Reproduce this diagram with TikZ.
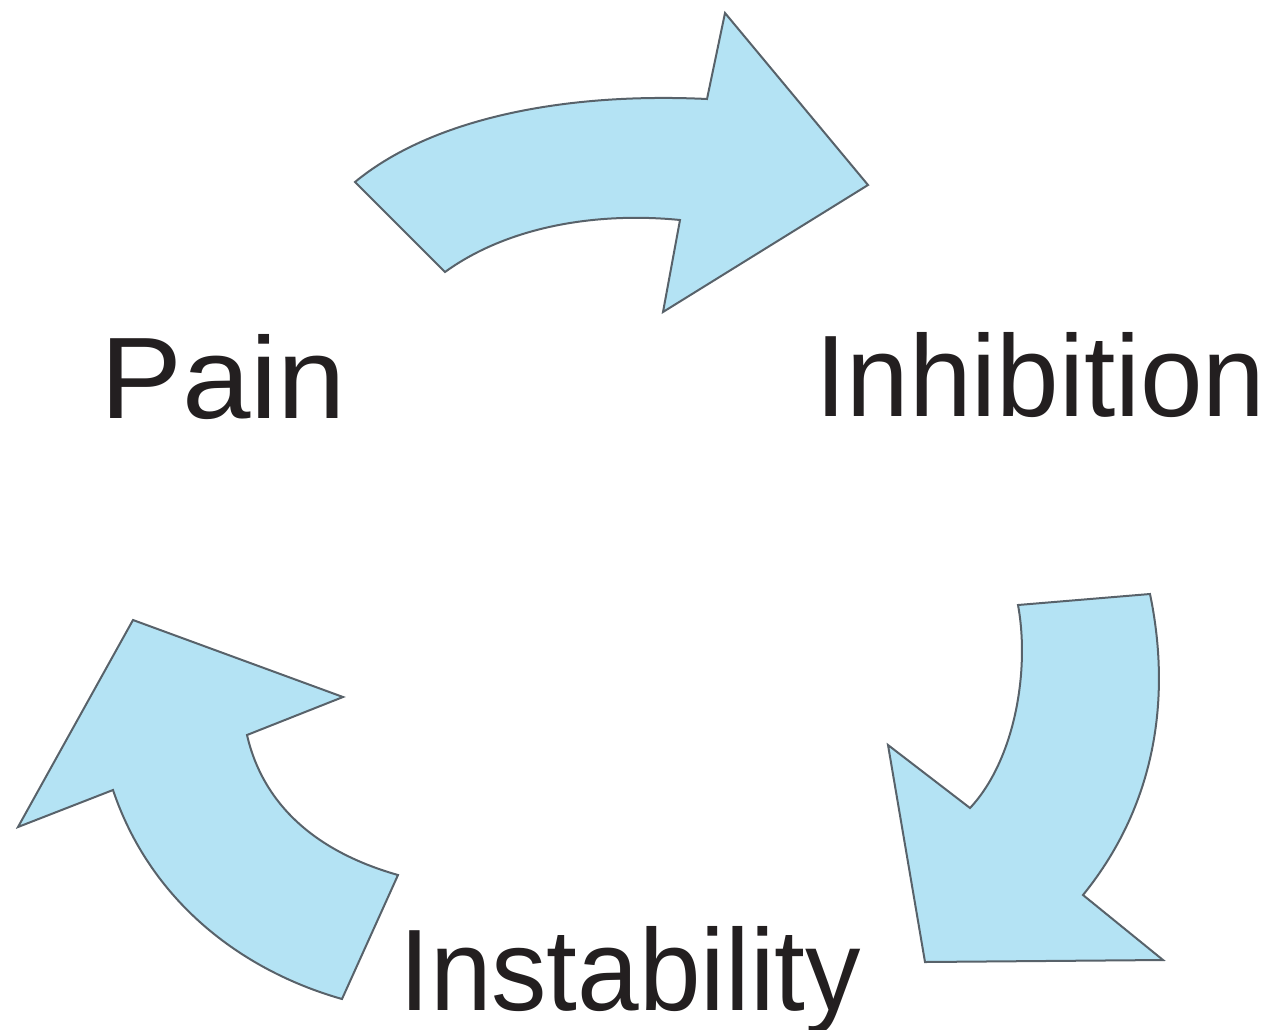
\documentclass[tikz,border=0pt]{standalone}
\usepackage{fontspec}
\setmainfont{Liberation Sans}
\definecolor{arrowfill}{RGB}{180,227,244}
\definecolor{arrowline}{RGB}{88,98,106}
\definecolor{txt}{RGB}{35,31,32}
\begin{document}
\begin{tikzpicture}[x=1pt,y=-1pt,
  arr/.style={fill=arrowfill, draw=arrowline, line width=2pt, line join=miter},
  lbl/.style={anchor=base west, inner sep=0pt, text=txt, font=\fontsize{116}{130}\selectfont}]
\useasboundingbox (0,0) rectangle (1274,1029);
% Pain -> Inhibition
\draw[arr] (355,182) .. controls (430,120) and (560,92) .. (707,99) -- (725,13) -- (868,185) -- (663,312) -- (680,220) .. controls (600,212) and (510,225) .. (445,272) -- cycle;
% Inhibition -> Instability
\draw[arr] (1018,605) -- (1150,594) .. controls (1170,690) and (1160,800) .. (1083,895) -- (1163,960) -- (925,962) -- (888,745) -- (970,808) .. controls (1015,760) and (1030,670) .. (1018,605) -- cycle;
% Instability -> Pain
\draw[arr] (398,875) -- (342,999) .. controls (240,970) and (150,900) .. (113,790) -- (18,827) -- (133,620) -- (343,697) -- (247,735) .. controls (262,800) and (310,850) .. (398,875) -- cycle;
\node[lbl] (pain) at (100,418) {\scalebox{1.06}[1]{Pain}};
\node[lbl] (inhib) at (815,416) {\scalebox{0.97}[1]{Inhibition}};
\node[lbl] (instab) at (399,1010) {\scalebox{0.955}[1]{Instability}};
\end{tikzpicture}
\end{document}
